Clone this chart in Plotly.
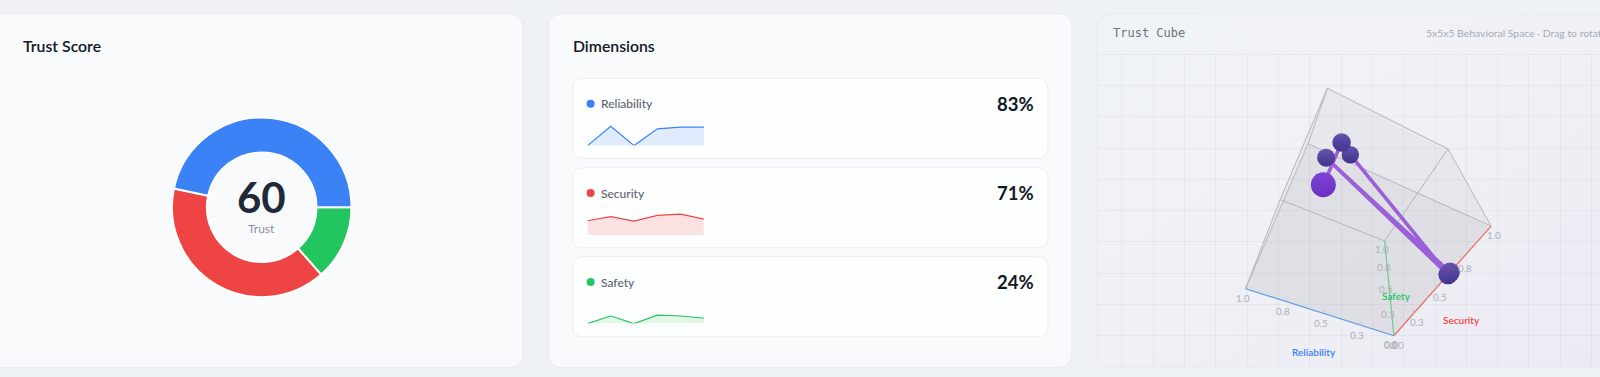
import base64
import numpy as np
import plotly.graph_objects as go

W, H = 1600, 377
# ---------- data ----------
dimensions = ["Reliability", "Security", "Safety"]
scores = [83, 71, 24]
trust = 60
reliability = [0, 87, 0, 75, 83, 83]
security = [64, 82, 62, 88, 94, 71]
safety = [0, 34, 0, 38, 34, 24]
steps = [0, 1, 2, 3, 4, 5]
tick_values = [0, 0.25, 0.5, 0.75, 1.0]
tick_labels = ["0.0", "0.3", "0.5", "0.8", "1.0"]
colors = ["#3b82f6", "#ef4444", "#22c55e"]

# camera calibration for the cube: unit-cube corners and where they land on the panel axes
corner_ids = [(0,0,0),(1,0,0),(0,1,0),(0,0,1),(1,1,0),(1,0,1),(0,1,1),(1,1,1)]
corner_pos = [(1394,336),(1245.3,288.3),(1491,226),(1384.7,240.7),(1308.3,144),(1280.3,200),(1448,149),(1327.3,88)]

A, b = [], []
for (X, Y, Z), (u, v) in zip(corner_ids, corner_pos):
    A.append([X, Y, Z, 1, 0, 0, 0, 0, -u*X, -u*Y, -u*Z]); b.append(u)
    A.append([0, 0, 0, 0, X, Y, Z, 1, -v*X, -v*Y, -v*Z]); b.append(v)
p = np.linalg.lstsq(np.array(A, float), np.array(b, float), rcond=None)[0]
P = np.append(p, 1).reshape(3, 4)

def proj(X, Y, Z):
    q = P @ np.array([X, Y, Z, 1.0])
    return float(q[0]/q[2]), float(q[1]/q[2])

def xf(px): return px / W
def yf(py): return 1 - py / H

def rr(x0, y0, x1, y1, r):
    return (f"M{x0+r},{y0} L{x1-r},{y0} Q{x1},{y0} {x1},{y0+r} L{x1},{y1-r} Q{x1},{y1} {x1-r},{y1} "
            f"L{x0+r},{y1} Q{x0},{y1} {x0},{y1-r} L{x0},{y0+r} Q{x0},{y0} {x0+r},{y0} Z")

fig = go.Figure()
FONT = "Lato"

layout = dict(
    width=W, height=H, autosize=False, margin=dict(l=0, r=0, t=0, b=0, pad=0),
    paper_bgcolor="#eef1f6", plot_bgcolor="rgba(0,0,0,0)", showlegend=False,
    xaxis=dict(domain=[0, 1], range=[0, W], visible=False, fixedrange=True),
    yaxis=dict(domain=[0, 1], range=[H, 0], visible=False, fixedrange=True),
)

shapes = []
def card(x0, y0, x1, y1, r, fill, line):
    shapes.append(dict(type="path", path=rr(x0, y0, x1, y1, r), xref="x", yref="y",
                       fillcolor=fill, line=dict(color=line, width=1), layer="below"))
card(-14, 13.7, 523, 367.5, 14, "#f9fafc", "#e8ebf0")
card(548.6, 13.7, 1072, 367.5, 14, "#f9fafc", "#e8ebf0")
row_tops = [78.3, 167.7, 256.7]
for t in row_tops:
    card(572.7, t, 1048, t + 80, 10, "#fdfefe", "#eceef2")

fig.add_trace(go.Scatter(x=[0], y=[0], mode="markers", marker=dict(opacity=0), hoverinfo="skip", xaxis="x", yaxis="y"))

annotations = []
def text(x, y, s, size, color, anchor="left", weight=400, family=FONT, xref="x", yref="y", xs=0, ys=0):
    annotations.append(dict(x=x, y=y, xref=xref, yref=yref, text=s, showarrow=False, xanchor=anchor, yanchor="middle",
                            xshift=xs, yshift=ys, borderpad=0, borderwidth=0,
                            font=dict(size=size, color=color, family=family, weight=weight)))

# ---------- donut (clockwise from 3 o'clock, so the dimension order runs backwards) ----------
cx, cy, R0 = 261.7, 207.3, 89.8
fig.add_trace(go.Pie(values=scores[::-1], labels=dimensions[::-1], hole=0.61, sort=False, direction="clockwise", rotation=90,
                     marker=dict(colors=colors[::-1], line=dict(color="#ffffff", width=2)), textinfo="none", hoverinfo="skip",
                     domain=dict(x=[xf(cx-R0), xf(cx+R0)], y=[yf(cy+R0), yf(cy-R0)])))
text(23.4, 45.4, "Trust Score", 15.8, "#111827", weight=600)
text(cx, 196.7, str(trust), 42, "#1f2937", "center", 700)
text(cx, 228, "Trust", 12, "#8b909c", "center")

# ---------- dimensions ----------
text(572.7, 45.4, "Dimensions", 15.8, "#111827", weight=600)
series = [reliability, security, safety]
fills = ["rgba(59,130,246,0.15)", "rgba(239,68,68,0.15)", "rgba(34,197,94,0.12)"]
bases = [145.6, 235.0, 323.6]
for i, (name, vals, score) in enumerate(zip(dimensions, series, scores)):
    xa, ya = f"x{i+2}", f"y{i+2}"
    layout[f"xaxis{i+2}"] = dict(domain=[xf(587.5), xf(703.9)], range=[0, 5], visible=False, fixedrange=True, anchor=ya)
    layout[f"yaxis{i+2}"] = dict(domain=[yf(bases[i]), yf(bases[i]-22.3)], range=[0, 100], visible=False, fixedrange=True, anchor=xa)
    fig.add_trace(go.Scatter(x=steps, y=vals, mode="lines", line=dict(color=colors[i], width=1.2, shape="linear"), fill="tozeroy",
                             fillcolor=fills[i], hoverinfo="skip", xaxis=xa, yaxis=ya, cliponaxis=False))
    my = row_tops[i] + 25.4
    shapes.append(dict(type="circle", xref="x", yref="y", x0=586.6, x1=594.6, y0=my-4, y1=my+4, fillcolor=colors[i], line=dict(width=0)))
    text(601, my, name, 12, "#5f6473", weight=500)
    text(1033.5, my, f"{score}%", 18.5, "#111827", "right", 700)

# ---------- cube panel background ----------
svg = ('<svg xmlns="http://www.w3.org/2000/svg" width="520" height="354" viewBox="0 0 520 354">'
       '<defs><linearGradient id="g" x1="0" y1="0" x2="1" y2="1"><stop offset="0" stop-color="#f0f3f7"/>'
       '<stop offset="0.5" stop-color="#eff1f6"/><stop offset="1" stop-color="#ece9f3"/></linearGradient></defs>'
       '<rect x="0.5" y="0.5" width="530" height="353" rx="14" fill="url(#g)" stroke="#e4e7ec"/></svg>')
uri = "data:image/svg+xml;base64," + base64.b64encode(svg.encode()).decode()
layout["images"] = [dict(source=uri, xref="x", yref="y", x=1097, y=13.5, sizex=520, sizey=354, sizing="stretch",
                         xanchor="left", yanchor="top", layer="below")]
shapes.append(dict(type="path", path="M1097.5,52 L1097.5,27.7 Q1097.5,14 1111.5,14 L1610,14 L1610,52 Z", xref="x", yref="y",
                   fillcolor="#f3f6fa", line=dict(width=0), layer="below"))
shapes.append(dict(type="line", x0=1097.5, x1=1610, y0=52, y1=52, xref="x", yref="y", line=dict(color="#edf0f4", width=1.5), layer="below"))
text(1112.7, 32.6, "Trust Cube", 12, "#6b7280", family="DejaVu Sans Mono")
text(1425.7, 33.3, "5x5x5 Behavioral Space · Drag to rotate", 10.4, "#a6abb6")

# cube axes: panel pixels with the background grid
GRID = "rgba(190,196,208,0.2)"
layout["xaxis5"] = dict(domain=[xf(1097.5), 1], range=[1097.5, 1600], showgrid=True, gridcolor=GRID, gridwidth=1,
                        tick0=1121.7, dtick=31.33, zeroline=False, showticklabels=False, ticks="", showline=False, fixedrange=True, anchor="y5")
layout["yaxis5"] = dict(domain=[yf(366.8), yf(52.5)], range=[366.8, 52.5], showgrid=True, gridcolor=GRID, gridwidth=1,
                        tick0=85.7, dtick=31.25, zeroline=False, showticklabels=False, ticks="", showline=False, fixedrange=True, anchor="x5")

def add(xs, ys, **kw):
    fig.add_trace(go.Scatter(x=xs, y=ys, xaxis="x5", yaxis="y5", hoverinfo="skip", cliponaxis=False, **kw))

faces = [[(0,0,0),(1,0,0),(1,1,0),(0,1,0)], [(0,0,0),(1,0,0),(1,0,1),(0,0,1)], [(0,0,0),(0,1,0),(0,1,1),(0,0,1)],
         [(0,0,1),(1,0,1),(1,1,1),(0,1,1)]]
for f in faces:
    pts = [proj(*c) for c in f] + [proj(*f[0])]
    add([a for a, _ in pts], [c for _, c in pts], mode="none", fill="toself", fillcolor="rgba(120,120,120,0.065)")

edges = [((1,0,0),(1,1,0)),((1,0,0),(1,0,1)),((0,1,0),(1,1,0)),((0,1,0),(0,1,1)),((0,0,1),(1,0,1)),((0,0,1),(0,1,1)),
         ((1,1,0),(1,1,1)),((1,0,1),(1,1,1)),((0,1,1),(1,1,1))]
for a, c in edges:
    pa, pc = proj(*a), proj(*c)
    add([pa[0], pc[0]], [pa[1], pc[1]], mode="lines", line=dict(color="#b4b6bb", width=1))

axis_dirs = [(1,0,0),(0,1,0),(0,0,1)]
axis_line = ["#5b9bea", "#ee6b62", "#6fcb8d"]
tick_shift = [(-2.7, -9.5), (3.3, -9), (-3, -8)]
for d, col, sh in zip(axis_dirs, axis_line, tick_shift):
    pe = proj(*d); po = proj(0, 0, 0)
    add([po[0], pe[0]], [po[1], pe[1]], mode="lines", line=dict(color=col, width=1.2))
    for t, lab in zip(tick_values, tick_labels):
        q = proj(d[0]*t, d[1]*t, d[2]*t)
        text(q[0], q[1], lab, 9.8, "#aeb1b8", "center", xref="x5", yref="y5", xs=sh[0], ys=sh[1])
        if 0 < t < 1 and d[2] == 0:
            r = proj(d[0]*t, d[1]*t, 0.03)
            add([q[0], r[0]], [q[1], r[1]], mode="lines", line=dict(color="#c4c6cc", width=1))

# trajectory through the space
traj = [proj(r/100, s/100, f/100) for r, s, f in zip(reliability, security, safety)]
add([a for a, _ in traj], [c for _, c in traj], mode="lines", line=dict(color="#9b5fd8", width=3.6))
ball_sizes = [19.5, 18, 19.5, 17.5, 18.5, 25]
ball_top = ["#6552ac", "#6552ac", "#6552ac", "#6552ac", "#6552ac", "#7f43d8"]
ball_bot = ["#43338c", "#43338c", "#43338c", "#43338c", "#43338c", "#6a2fc0"]
for i in [1, 3, 4, 0, 2, 5]:
    add([traj[i][0]], [traj[i][1]], mode="markers", marker=dict(size=ball_sizes[i], color=ball_top[i], line=dict(width=0),
        gradient=dict(type="vertical", color=ball_bot[i])))

q = proj(0.5, 0, 0); text(q[0], q[1], "Reliability", 10, "#3b82f6", "center", 600, xref="x5", yref="y5", xs=-10, ys=-38)
q = proj(0, 0.5, 0); text(q[0], q[1], "Security", 10, "#ef4444", "center", 600, xref="x5", yref="y5", xs=25, ys=-32)
q = proj(0, 0, 0.5); text(q[0], q[1], "Safety", 10, "#22c55e", "center", 600, xref="x5", yref="y5", xs=8, ys=-15)

layout["shapes"] = shapes
layout["annotations"] = annotations
fig.update_layout(**layout)
fig.write_html("out.html", config=dict(displayModeBar=False, responsive=False),
               post_script="document.body.style.margin='0';document.body.style.overflow='hidden';")
